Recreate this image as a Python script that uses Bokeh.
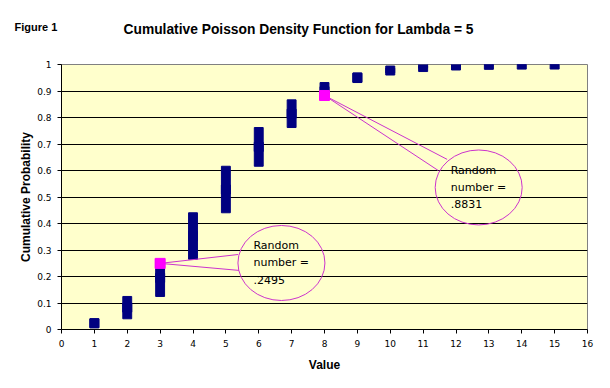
from bokeh.plotting import figure
from bokeh.models import Range1d, FixedTicker, Label, Title, ColumnDataSource
from bokeh.embed import file_html
from bokeh.resources import INLINE

# ---- data ----
values = [1, 2, 3, 4, 5, 6, 7, 8, 9, 10, 11, 12, 13, 14, 15]
cum_low = [0.0067, 0.0404, 0.1247, 0.2650, 0.4405, 0.6160, 0.7622, 0.8666,
           0.9319, 0.9682, 0.9863, 0.9945, 0.9980, 0.9993, 0.9998]
cum_high = [0.0404, 0.1247, 0.2650, 0.4405, 0.6160, 0.7622, 0.8666, 0.9319,
            0.9682, 0.9863, 0.9945, 0.9980, 0.9993, 0.9998, 0.9999]
random_x = [3, 8]
random_y = [0.2495, 0.8831]
callout_lines = [["Random", "number =", ".2495"], ["Random", "number =", ".8831"]]
callout_x = [6.69, 12.69]
callout_y = [0.251, 0.536]
tail_x = [[5.37, 5.40], [11.73, 11.46]]
tail_y = [[0.283, 0.223], [0.642, 0.600]]
x_ticks = list(range(0, 17))
y_ticks = [0, 0.1, 0.2, 0.3, 0.4, 0.5, 0.6, 0.7, 0.8, 0.9, 1.0]
y_tick_labels = ["0", "0.1", "0.2", "0.3", "0.4", "0.5", "0.6", "0.7", "0.8", "0.9", "1"]
title_text = "Cumulative Poisson Density Function for Lambda = 5"
figure_tag = "Figure 1"

NAVY = "#000080"
MAG = "#FF00FF"
CALLOUT = "#CC33CC"
FONT = "DejaVu Sans"
BFONT = "Liberation Sans"

p = figure(width=602, height=380, output_backend="svg", toolbar_location=None,
           x_range=Range1d(0, 16), y_range=Range1d(0, 1),
           min_border_left=61, min_border_right=15, min_border_top=64, min_border_bottom=51)
p.background_fill_color = "#FFFFCC"
p.border_fill_color = "white"
p.outline_line_color = "#808080"
p.outline_line_width = 1

# outermost header item: "Figure 1" (pulled down beside the main title)
p.title.text = figure_tag
p.title.align = "left"
p.title.offset = -47
p.title.standoff = -26.8
p.title.text_font = BFONT
p.title.text_font_style = "bold"
p.title.text_font_size = "11px"
p.title.text_color = "black"

# header items nearest the frame first: a blank spacer, then the main title
p.add_layout(Title(text=".", align="left", standoff=17.5, text_font=BFONT,
                   text_font_size="10px", text_color="white"), "above")
p.add_layout(Title(text=title_text, align="left", offset=62, standoff=0,
                   text_font=BFONT, text_font_style="bold", text_font_size="13.8px",
                   text_color="black"), "above")

p.xgrid.visible = False
p.ygrid.ticker = FixedTicker(ticks=y_ticks[1:-1])
p.ygrid.grid_line_color = "black"
p.ygrid.grid_line_width = 1

for ax in (p.xaxis[0], p.yaxis[0]):
    ax.axis_line_color = "black"
    ax.major_tick_line_color = "black"
    ax.major_tick_in = 0
    ax.major_tick_out = 4
    ax.minor_tick_line_color = None
    ax.major_label_text_font = FONT
    ax.major_label_text_font_size = "9px"
    ax.major_label_text_color = "black"
    ax.axis_label_text_font = BFONT
    ax.axis_label_text_font_style = "bold"
    ax.axis_label_text_font_size = "12px"
    ax.axis_label_text_color = "black"

p.xaxis.ticker = FixedTicker(ticks=x_ticks)
p.yaxis.ticker = FixedTicker(ticks=y_ticks)
p.yaxis.major_label_overrides = {t: l for t, l in zip(y_ticks, y_tick_labels)}
p.xaxis.axis_label = "Value"
p.yaxis.axis_label = "Cumulative Probability"
p.xaxis.major_label_standoff = 6
p.yaxis.major_label_standoff = 6
p.xaxis.axis_label_standoff = 8
p.yaxis.axis_label_standoff = 1

# bars (cumulative steps) with a minimum visible block at the middle
src = ColumnDataSource(dict(x=values, lo=cum_low, hi=cum_high,
                            mid=[(a + b) / 2 for a, b in zip(cum_low, cum_high)]))
p.vbar(x="x", bottom="lo", top="hi", width=0.27, source=src, fill_color=NAVY,
       line_color=NAVY, line_width=1)
p.scatter(x="x", y="mid", marker="square", size=9, source=src, fill_color=NAVY,
          line_color=NAVY, line_width=1)

# callout ellipses and tails
p.ellipse(x=callout_x, y=callout_y, width=87, height=75, width_units="screen",
          height_units="screen", fill_color=None, line_color=CALLOUT, line_width=1)
for i in range(2):
    for j in range(2):
        p.segment(x0=[random_x[i]], y0=[random_y[i]], x1=[tail_x[i][j]], y1=[tail_y[i][j]],
                  line_color=CALLOUT, line_width=1)

# random number markers
p.scatter(x=random_x, y=random_y, marker="square", size=10, fill_color=MAG,
          line_color=MAG)

for i in range(2):
    for k, txt in enumerate(callout_lines[i]):
        p.add_layout(Label(x=callout_x[i], y=callout_y[i], text=txt, x_offset=-28,
                           y_offset=17 - 17 * k, text_baseline="middle", text_align="left",
                           text_font=FONT, text_font_size="11px", text_color="black"))

open("out.html", "w").write(file_html(p, INLINE))
